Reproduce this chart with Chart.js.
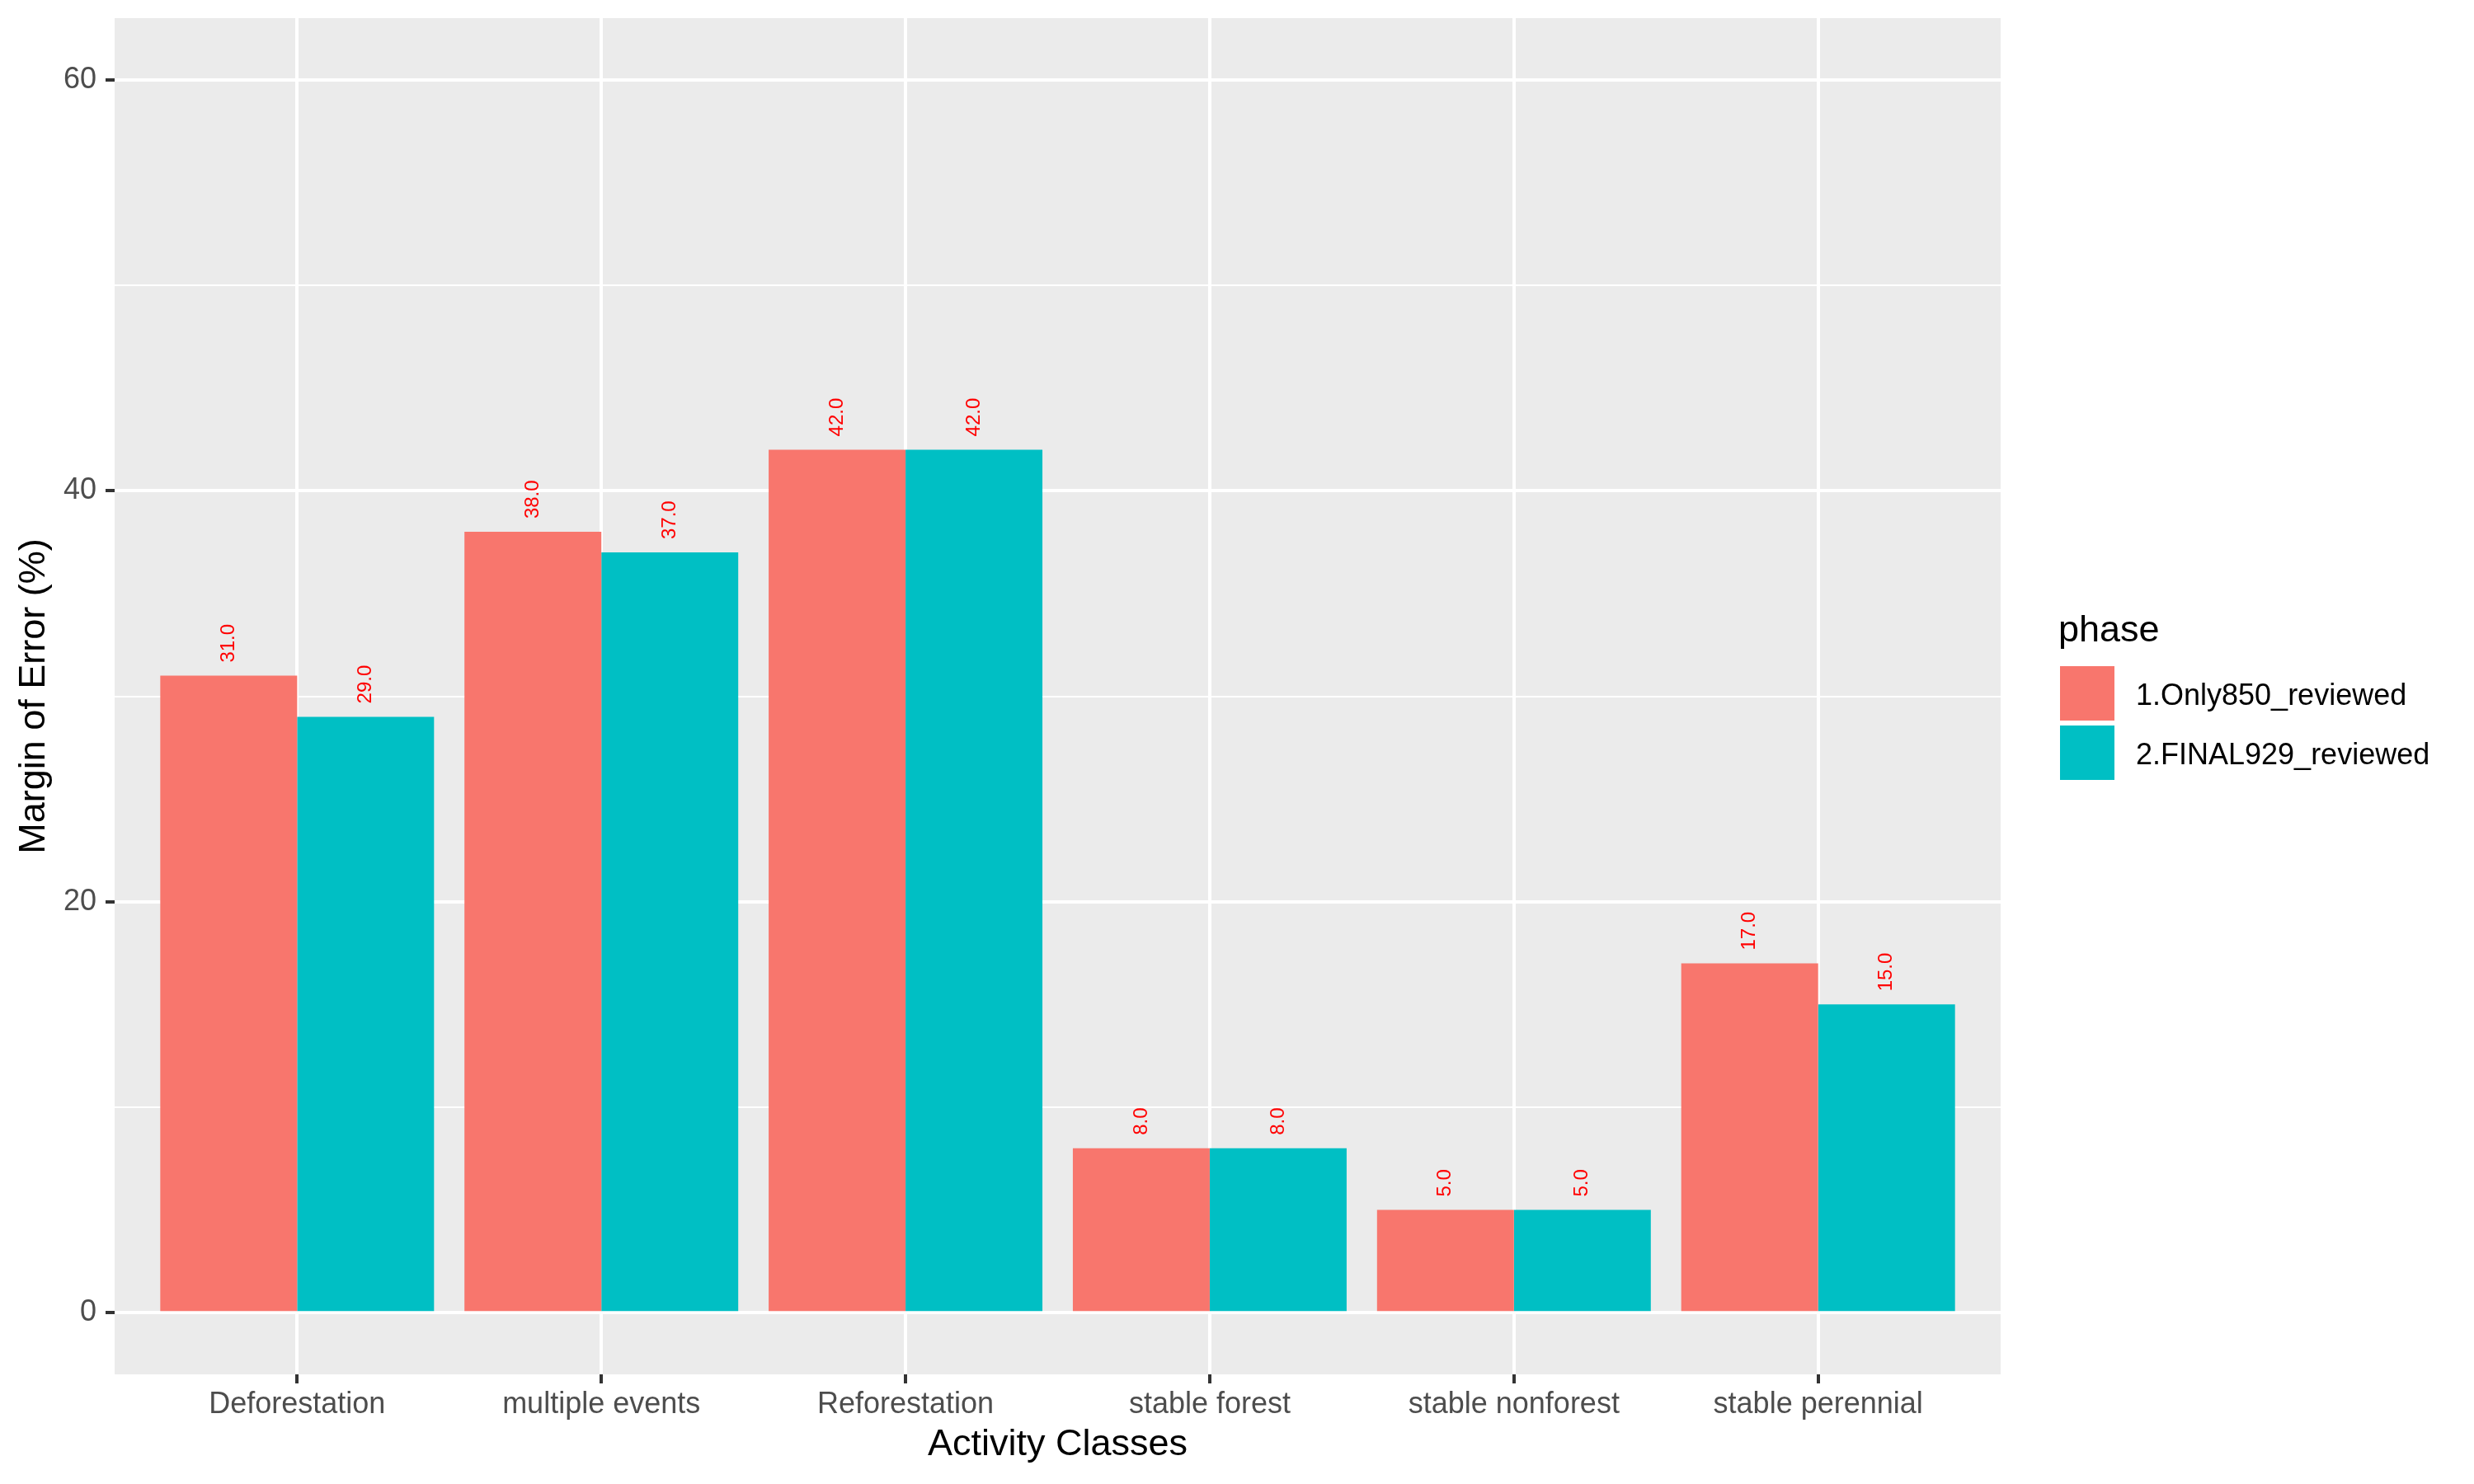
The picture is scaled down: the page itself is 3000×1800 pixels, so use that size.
<!DOCTYPE html>
<html lang="en">
<head>
  <meta charset="UTF-8" />
  <title>Margin of Error</title>
  <script src="https://cdn.jsdelivr.net/npm/chart.js"></script>
  <style>
    body { margin: 0; background: white; }
    .caixa { width: 3000px; height: 1800px; }
  </style>
</head>
<body>
  <div class="caixa">
    <canvas id="grafico"></canvas>
  </div>

<script>
// dados
var classes = ['Deforestation', 'multiple events', 'Reforestation', 'stable forest', 'stable nonforest', 'stable perennial'];
var fases = ['1.Only850_reviewed', '2.FINAL929_reviewed'];
var only850 = [31, 38, 42, 8, 5, 17];
var final929 = [29, 37, 42, 8, 5, 15];
var ticksY = [0, 10, 20, 30, 40, 50, 60];
var cores = ['#F8766D', '#00BFC4'];

var fonte = '"Liberation Sans", Arial, sans-serif';

function pontos(valores) {
  return valores.map(function (v, i) { return { x: i + 1, y: v }; });
}

// fundo cinza do painel
var fundoPainel = {
  id: 'fundoPainel',
  beforeDraw: function (chart) {
    var a = chart.chartArea;
    var ctx = chart.ctx;
    ctx.save();
    ctx.fillStyle = '#EBEBEB';
    ctx.fillRect(a.left, a.top, a.right - a.left, a.bottom - a.top);
    ctx.restore();
  }
};

// rotulos vermelhos em cima das barras
var rotulos = {
  id: 'rotulos',
  afterDatasetsDraw: function (chart) {
    var ctx = chart.ctx;
    ctx.save();
    ctx.fillStyle = '#FF0000';
    ctx.font = '24px ' + fonte;
    ctx.textAlign = 'left';
    ctx.textBaseline = 'middle';
    chart.data.datasets.forEach(function (ds, d) {
      chart.getDatasetMeta(d).data.forEach(function (barra, i) {
        ctx.save();
        ctx.translate(barra.x, barra.y - 16);
        ctx.rotate(-Math.PI / 2);
        ctx.fillText(ds.data[i].y.toFixed(1), 0, 0);
        ctx.restore();
      });
    });
    ctx.restore();
  }
};

// legenda no estilo do ggplot
var legenda = {
  id: 'legenda',
  afterDraw: function (chart) {
    var ctx = chart.ctx;
    var x = chart.chartArea.right + 72;
    ctx.save();
    ctx.fillStyle = '#000000';
    ctx.textBaseline = 'alphabetic';
    ctx.textAlign = 'left';
    ctx.font = '45px ' + fonte;
    ctx.fillText('phase', x - 2, 778);
    ctx.font = '36px ' + fonte;
    chart.data.datasets.forEach(function (ds, d) {
      var y = 808 + d * 72;
      ctx.fillStyle = ds.backgroundColor;
      ctx.fillRect(x, y, 66, 66);
      ctx.fillStyle = '#000000';
      ctx.fillText(ds.label, x + 92, y + 47);
    });
    ctx.restore();
  }
};

const config = {
  type: 'bar',
  data: {
    datasets: [
      { label: fases[0], data: pontos(only850), backgroundColor: cores[0], borderWidth: 0 },
      { label: fases[1], data: pontos(final929), backgroundColor: cores[1], borderWidth: 0 }
    ]
  },
  options: {
    responsive: true,
    maintainAspectRatio: false,
    animation: false,
    categoryPercentage: 0.9,
    barPercentage: 1.0,
    layout: { padding: { top: 22, right: 574, left: 0, bottom: 0 } },
    plugins: {
      legend: { display: false },
      tooltip: { enabled: false }
    },
    scales: {
      x: {
        type: 'linear',
        min: 0.4,
        max: 6.6,
        offset: false,
        afterBuildTicks: function (scale) {
          scale.ticks = classes.map(function (c, i) { return { value: i + 1 }; });
        },
        afterFit: function (scale) {
          scale.height = 133;
          scale.paddingLeft = 0;
          scale.paddingRight = 0;
        },
        ticks: {
          color: '#4D4D4D',
          font: { family: fonte, size: 36 },
          padding: 4,
          maxRotation: 0,
          autoSkip: false,
          callback: function (v) { return classes[v - 1]; }
        },
        grid: {
          offset: false,
          color: '#FFFFFF',
          lineWidth: 4,
          tickColor: '#333333',
          tickWidth: 4,
          tickLength: 11
        },
        border: { display: false },
        title: {
          display: true,
          text: 'Activity Classes',
          color: '#000000',
          font: { family: fonte, size: 45 },
          padding: { top: 0, bottom: 20 }
        }
      },
      y: {
        min: -3,
        max: 63,
        afterBuildTicks: function (scale) {
          scale.ticks = ticksY.map(function (v) { return { value: v }; });
        },
        afterFit: function (scale) {
          scale.width = 139;
          scale.paddingTop = 0;
          scale.paddingBottom = 0;
        },
        ticks: {
          color: '#4D4D4D',
          font: { family: fonte, size: 36 },
          padding: 11,
          callback: function (v) { return v % 20 === 0 ? v : ''; }
        },
        grid: {
          color: '#FFFFFF',
          lineWidth: function (ctx) { return ctx.tick && ctx.tick.value % 20 === 0 ? 4 : 2; },
          tickColor: function (ctx) { return ctx.tick && ctx.tick.value % 20 === 0 ? '#333333' : 'rgba(0,0,0,0)'; },
          tickWidth: 4,
          tickLength: 11
        },
        border: { display: false },
        title: {
          display: true,
          text: 'Margin of Error (%)',
          color: '#000000',
          font: { family: fonte, size: 45 },
          padding: { top: 15, bottom: 0 }
        }
      }
    }
  },
  plugins: [fundoPainel, rotulos, legenda]
};

const grafico = new Chart(document.getElementById('grafico'), config);
</script>
</body>
</html>
